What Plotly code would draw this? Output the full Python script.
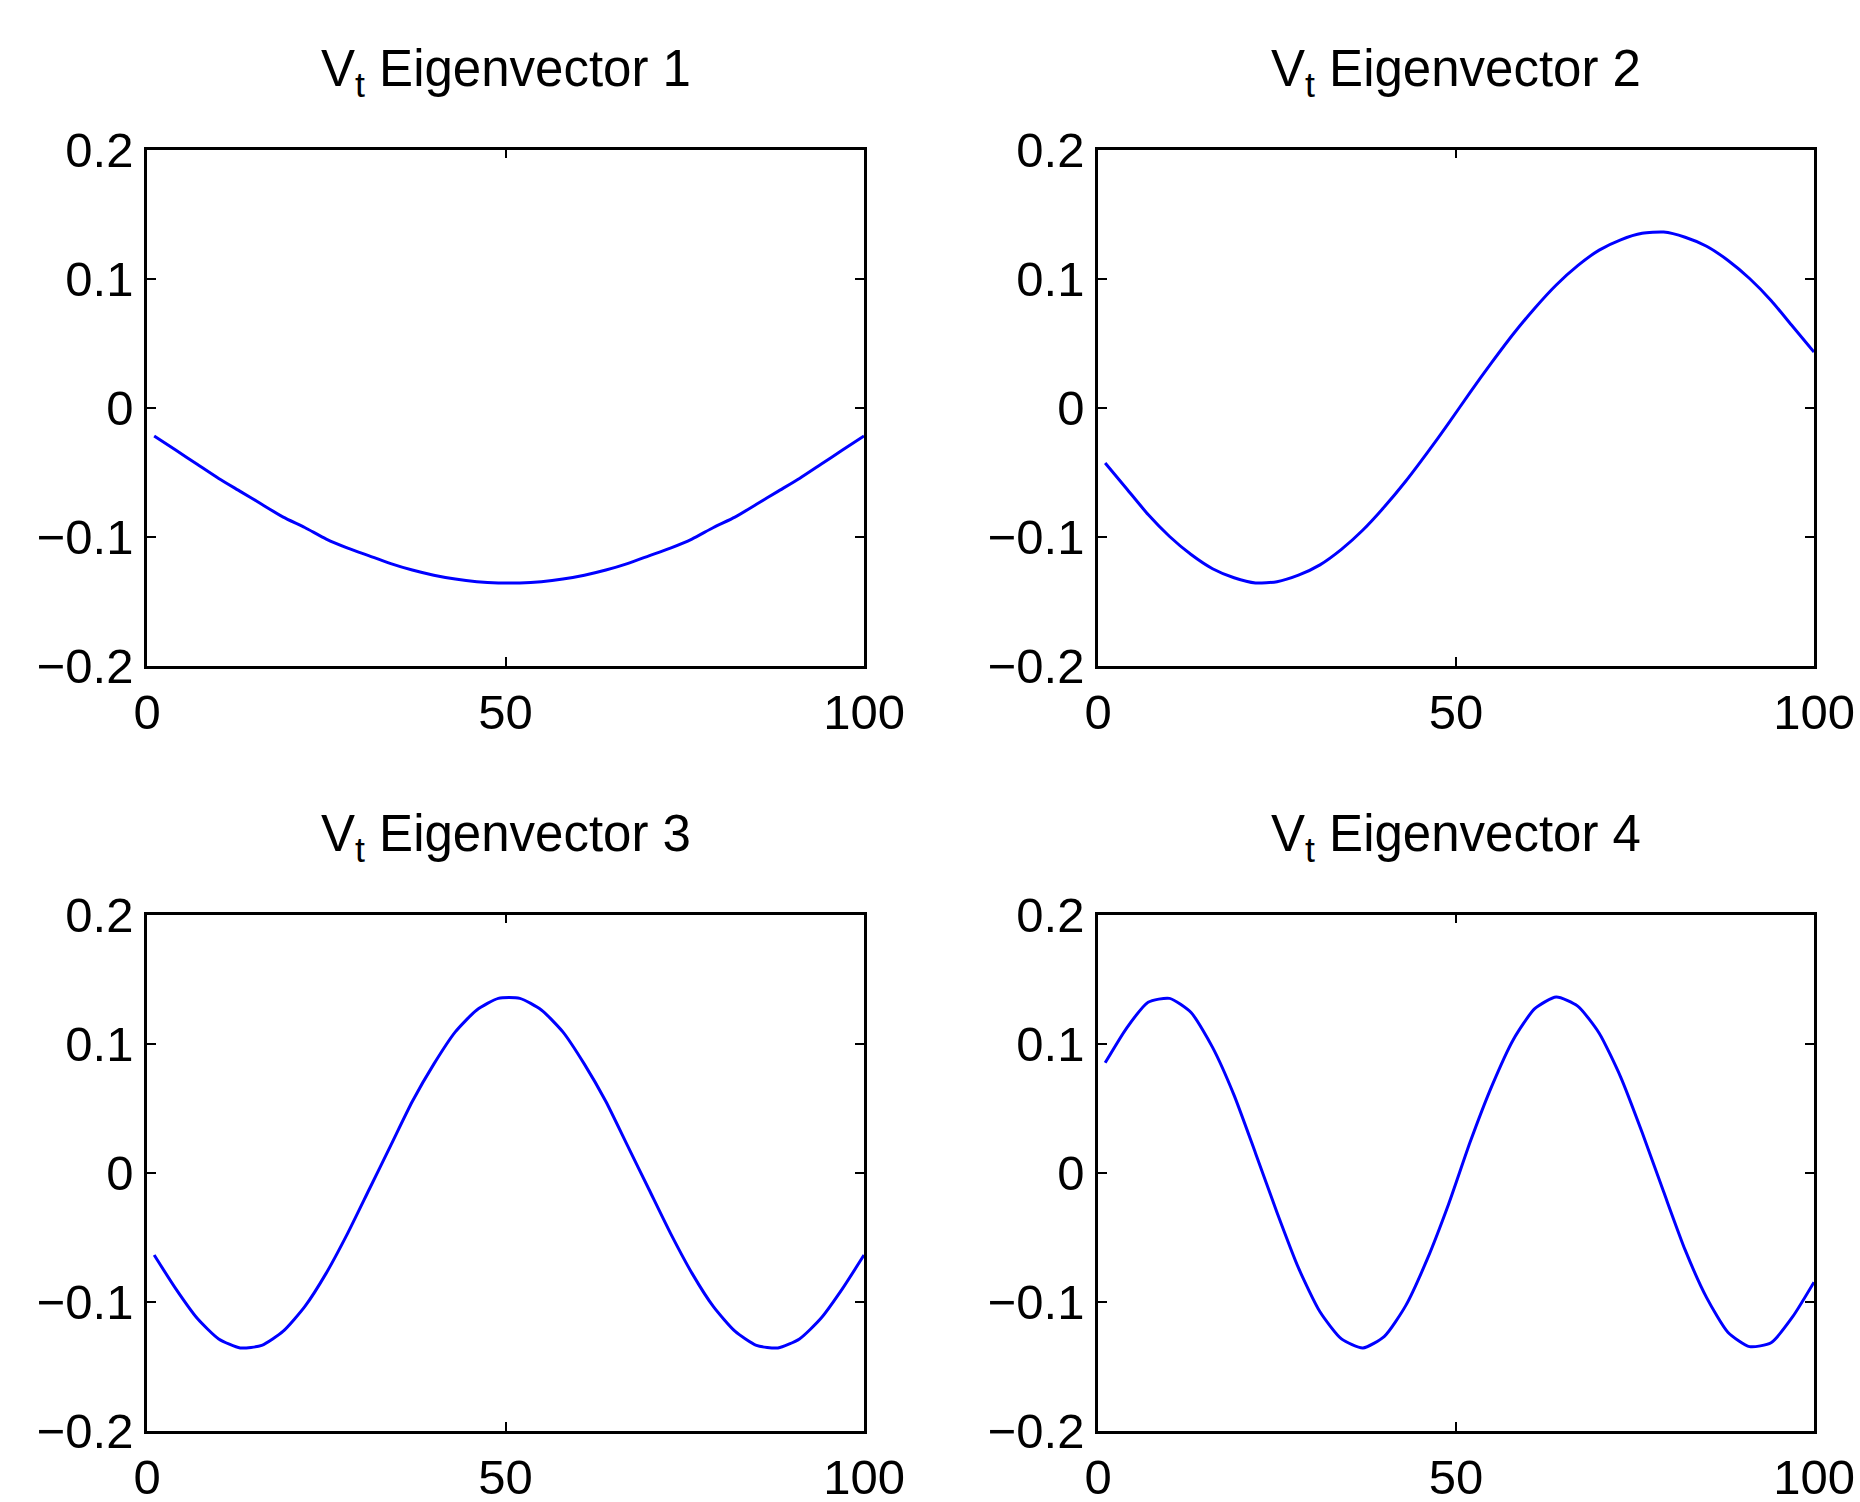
import plotly.graph_objects as go

# Sample positions (vector index) and values
x_idx = [1, 4, 7, 10, 13, 16, 19, 22, 25, 28, 31, 34, 37, 40, 43, 46, 49,
         52, 55, 58, 61, 64, 67, 70, 73, 76, 79, 82, 85, 88, 91, 94, 97, 100]

ev1 = [-0.022, -0.033, -0.044, -0.055, -0.065, -0.075, -0.085, -0.093, -0.102,
       -0.109, -0.115, -0.121, -0.126, -0.130, -0.133, -0.135, -0.136,
       -0.136, -0.135, -0.133, -0.130, -0.126, -0.121, -0.115, -0.109,
       -0.102, -0.093, -0.085, -0.075, -0.065, -0.055, -0.044, -0.033, -0.022]

ev2 = [-0.043, -0.063, -0.083, -0.100, -0.114, -0.125, -0.132, -0.136, -0.135,
       -0.130, -0.122, -0.110, -0.095, -0.077, -0.057, -0.035, -0.012,
       0.012, 0.035, 0.057, 0.077, 0.095, 0.110, 0.122, 0.130,
       0.135, 0.136, 0.132, 0.125, 0.114, 0.100, 0.083, 0.063, 0.043]

ev3 = [-0.064, -0.090, -0.113, -0.129, -0.136, -0.134, -0.123, -0.104, -0.078,
       -0.047, -0.013, 0.021, 0.055, 0.084, 0.109, 0.126, 0.135,
       0.135, 0.126, 0.109, 0.084, 0.055, 0.021, -0.013, -0.047,
       -0.078, -0.104, -0.123, -0.134, -0.136, -0.129, -0.113, -0.090, -0.064]

ev4 = [0.085, 0.112, 0.132, 0.135, 0.124, 0.097, 0.060, 0.015, -0.031,
       -0.074, -0.108, -0.129, -0.136, -0.127, -0.103, -0.067, -0.024,
       0.024, 0.067, 0.103, 0.127, 0.136, 0.129, 0.108, 0.074,
       0.031, -0.015, -0.060, -0.097, -0.124, -0.135, -0.132, -0.112, -0.085]

titles = ["V<sub>t</sub> Eigenvector 1", "V<sub>t</sub> Eigenvector 2",
          "V<sub>t</sub> Eigenvector 3", "V<sub>t</sub> Eigenvector 4"]
x_ticks = [0, 50, 100]
y_ticks = [-0.2, -0.1, 0, 0.1, 0.2]
y_tick_text = ["\u22120.2", "\u22120.1", "0", "0.1", "0.2"]

W, H = 1860, 1502
FONT = "Liberation Sans, Arial, Helvetica, sans-serif"
FS_TICK = 49
FS_TITLE = 51

# axes pixel boxes (left, right, top, bottom)
xdoms = [(147, 864), (1098, 1814)]
ydoms = [(149.5, 665.5), (914.5, 1430.5)]

fig = go.Figure()
series = [ev1, ev2, ev3, ev4]
layout = dict(width=W, height=H, autosize=False,
              margin=dict(l=0, r=0, t=0, b=0, pad=0, autoexpand=False),
              paper_bgcolor="white", plot_bgcolor="white", showlegend=False,
              font=dict(family=FONT, size=FS_TICK, color="black"))
annotations = []
for i in range(4):
    r, c = divmod(i, 2)
    n = "" if i == 0 else str(i + 1)
    fig.add_trace(go.Scatter(x=x_idx, y=series[i], mode="lines",
                             line=dict(color="#0000ff", width=3, shape="spline",
                                       smoothing=0.6),
                             xaxis="x" + n, yaxis="y" + n, hoverinfo="skip"))
    xl, xr = xdoms[c]
    yt, yb = ydoms[r]
    common = dict(showline=True, linecolor="black", linewidth=2.5, mirror="ticks",
                  ticks="inside", ticklen=9, tickwidth=1.5, tickcolor="black",
                  showgrid=False, zeroline=False, automargin=False,
                  tickfont=dict(family=FONT, size=FS_TICK, color="black"))
    layout["xaxis" + n] = dict(domain=[xl / W, xr / W], range=[0, 100],
                               tickvals=x_ticks, anchor="y" + n,
                               ticklabelstandoff=2, **common)
    layout["yaxis" + n] = dict(domain=[1 - yb / H, 1 - yt / H], range=[-0.2, 0.2],
                               tickvals=y_ticks, ticktext=y_tick_text,
                               anchor="x" + n, ticklabelstandoff=1, **common)
    annotations.append(dict(text=titles[i], x=(xl + xr) / 2 / W,
                            y=1 - (yt - 77) / H, xref="paper", yref="paper",
                            xanchor="center", yanchor="middle", showarrow=False,
                            font=dict(family=FONT, size=FS_TITLE, color="black")))
layout["annotations"] = annotations
fig.update_layout(**layout)
fig.write_html("out.html")
